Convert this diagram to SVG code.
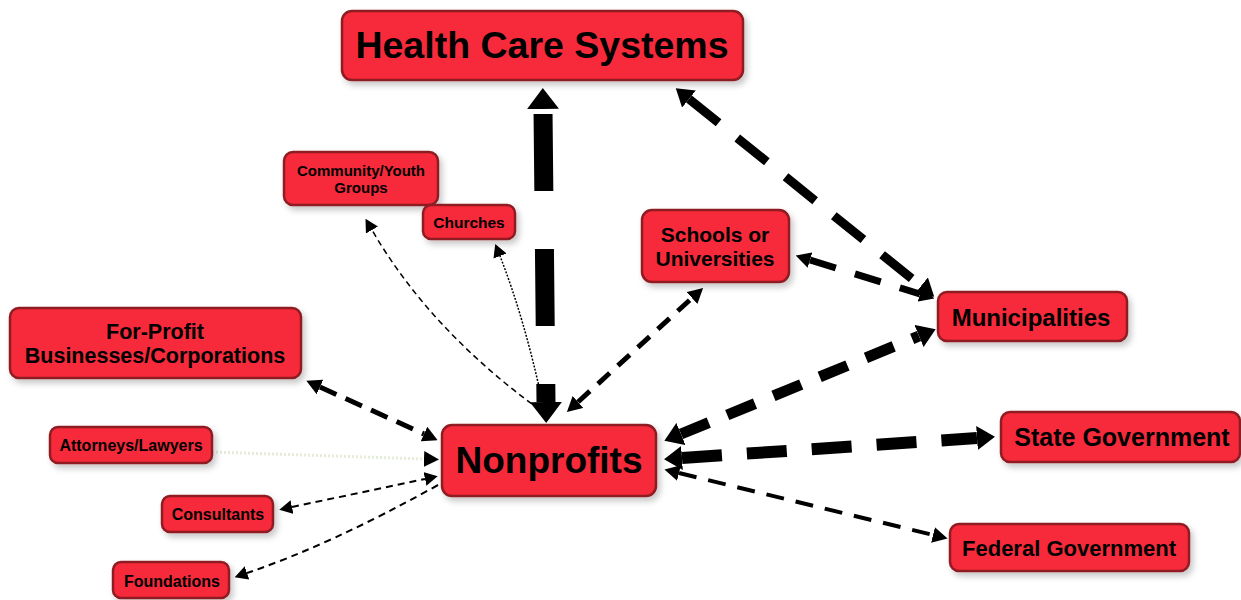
<svg xmlns="http://www.w3.org/2000/svg" width="1241" height="600" viewBox="0 0 1241 600">
<defs>
<style>
.box{fill:#f72a3a;stroke:#8e1b22;stroke-width:2.5;filter:url(#sh)}
.t{font-family:"Liberation Sans",Arial,sans-serif;font-weight:bold;fill:#000;text-anchor:middle}
.c{fill:none;stroke:#000;stroke-linecap:butt}
.faint{fill:none;stroke:#e4ecd8}
</style>
<filter id="sh" x="-10%" y="-20%" width="130%" height="160%">
<feDropShadow dx="3" dy="4" stdDeviation="3" flood-color="#000" flood-opacity="0.22"/>
</filter>
<marker id="mBig" markerUnits="userSpaceOnUse" markerWidth="22" markerHeight="32" refX="0" refY="16" orient="auto-start-reverse"><path d="M0,0 L21,16 L0,32 z" fill="#000"/></marker>
<marker id="mMed" markerUnits="userSpaceOnUse" markerWidth="18" markerHeight="22" refX="0" refY="11" orient="auto-start-reverse"><path d="M0,0 L17,11 L0,22 z" fill="#000"/></marker>
<marker id="mL" markerUnits="userSpaceOnUse" markerWidth="19" markerHeight="24" refX="0" refY="12" orient="auto-start-reverse"><path d="M0,0 L18,12 L0,24 z" fill="#000"/></marker>
<marker id="mSm" markerUnits="userSpaceOnUse" markerWidth="15" markerHeight="16" refX="0" refY="8" orient="auto-start-reverse"><path d="M0,0 L15,8 L0,16 z" fill="#000"/></marker>
<marker id="mXs" markerUnits="userSpaceOnUse" markerWidth="13" markerHeight="14" refX="0" refY="7" orient="auto-start-reverse"><path d="M0,0 L13,7 L0,14 z" fill="#000"/></marker>
</defs>
<rect width="1241" height="600" fill="#fff"/>
<g id="connectors">
<path class="c" d="M543,109 L546,402" stroke-width="19" stroke-dasharray="77 58" stroke-dashoffset="130" marker-start="url(#mBig)" marker-end="url(#mBig)"/>
<path class="c" d="M689,99 L921,286" stroke-width="9" stroke-dasharray="38 24" marker-start="url(#mMed)" marker-end="url(#mMed)"/>
<path class="c" d="M810,260 L920,294" stroke-width="7" stroke-dasharray="27 20" marker-start="url(#mSm)" marker-end="url(#mSm)"/>
<path class="c" d="M578,402 L692,298" stroke-width="5" stroke-dasharray="16 11" marker-start="url(#mSm)" marker-end="url(#mSm)"/>
<path class="c" d="M681,434 L919,336" stroke-width="11" stroke-dasharray="30 20" marker-start="url(#mL)" marker-end="url(#mL)"/>
<path class="c" d="M682,458 L977,438" stroke-width="12" stroke-dasharray="40 25" marker-start="url(#mL)" marker-end="url(#mL)"/>
<path class="c" d="M679,473 L933,535" stroke-width="4" stroke-dasharray="18 12" marker-start="url(#mSm)" marker-end="url(#mSm)"/>
<path class="c" d="M320,387 L424,434" stroke-width="5" stroke-dasharray="18 10" marker-start="url(#mSm)" marker-end="url(#mSm)"/>
<path class="faint" d="M212,452 L424,459" stroke-width="3" stroke-dasharray="2 2" marker-end="url(#mSm)"/>
<path class="c" d="M292,507 L425,479" stroke-width="2" stroke-dasharray="7 5" marker-start="url(#mXs)" marker-end="url(#mXs)"/>
<path class="c" d="M438,485 Q330,545 247,573" stroke-width="2" stroke-dasharray="7 5" marker-end="url(#mXs)"/>
<path class="c" d="M540,410 Q430,330 372,230" stroke-width="1.5" stroke-dasharray="6 4" marker-end="url(#mXs)"/>
<path class="c" d="M543,405 Q525,320 500,256" stroke-width="1.5" stroke-dasharray="2 1.5" marker-end="url(#mXs)"/>
</g>
<g id="hcs"><rect class="box" x="342" y="11" width="401" height="69" rx="10"/><text class="t" x="542" y="58" font-size="37.5">Health Care Systems</text></g>
<g id="community"><rect class="box" x="284" y="152" width="154" height="53" rx="9"/><text class="t" x="361" y="176" font-size="15">Community/Youth</text><text class="t" x="361" y="193" font-size="15">Groups</text></g>
<g id="churches"><rect class="box" x="423" y="205" width="92" height="34" rx="8"/><text class="t" x="469" y="228" font-size="15.5">Churches</text></g>
<g id="forprofit"><rect class="box" x="10" y="308" width="291" height="70" rx="9"/><text class="t" x="155" y="339" font-size="21.5">For-Profit</text><text class="t" x="155" y="363" font-size="21.5">Businesses/Corporations</text></g>
<g id="attorneys"><rect class="box" x="50" y="427" width="162" height="36" rx="8"/><text class="t" x="131" y="451" font-size="16">Attorneys/Lawyers</text></g>
<g id="consultants"><rect class="box" x="162" y="496" width="111" height="36" rx="8"/><text class="t" x="218" y="520" font-size="16">Consultants</text></g>
<g id="foundations"><rect class="box" x="113" y="562" width="116" height="36" rx="8"/><text class="t" x="172" y="587" font-size="16">Foundations</text></g>
<g id="nonprofits"><rect class="box" x="442" y="425" width="214" height="71" rx="10"/><text class="t" x="549" y="473" font-size="37">Nonprofits</text></g>
<g id="schools"><rect class="box" x="642" y="210" width="147" height="72" rx="10"/><text class="t" x="715" y="242" font-size="21">Schools or</text><text class="t" x="715" y="266" font-size="21">Universities</text></g>
<g id="municipalities"><rect class="box" x="938" y="292" width="189" height="49" rx="9"/><text class="t" x="1031" y="326" font-size="24">Municipalities</text></g>
<g id="state"><rect class="box" x="1001" y="412" width="239" height="50" rx="9"/><text class="t" x="1122" y="446" font-size="25">State Government</text></g>
<g id="federal"><rect class="box" x="950" y="524" width="239" height="47" rx="9"/><text class="t" x="1069" y="556" font-size="22">Federal Government</text></g>
</svg>
